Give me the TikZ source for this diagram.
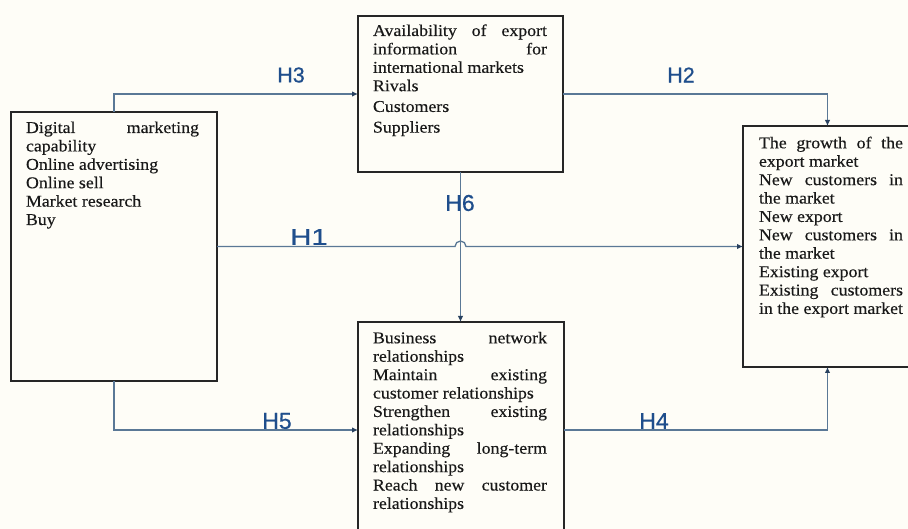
\documentclass[tikz,border=0pt]{standalone}
\usepackage{fontspec}
\setmainfont[FakeStretch=1.08,FakeBold=0.35]{Liberation Serif}
\newfontfamily\labfont[FakeBold=0.6]{Liberation Sans}
\usetikzlibrary{arrows.meta,calc}
\definecolor{bg}{RGB}{254,253,247}
\definecolor{conncol}{RGB}{90,120,150}
\definecolor{tipcol}{RGB}{40,65,95}
\definecolor{labcol}{RGB}{31,78,140}
\newcommand\jl[2]{\makebox[#1][s]{#2}}
\newcommand\fl{\rule{0pt}{12pt}}
\begin{document}
\begin{tikzpicture}[x=1pt,y=-1pt,
  box/.style={draw=black!85, line width=1.6pt, fill=bg, inner sep=0pt, outer sep=0pt},
  txt/.style={anchor=north west, inner sep=0pt, outer sep=0pt, align=left, font=\fontsize{16.5}{18.4}\selectfont, text=black!90},
  conn/.style={draw=conncol, line width=1.3pt, -{Latex[length=6pt,width=5.5pt,color=tipcol]}},
  lab/.style={text=labcol, font=\labfont\fontsize{21.5}{24}\selectfont, inner sep=0pt},
  labbig/.style={lab, font=\labfont\fontsize{23}{26}\selectfont}]
\fill[bg] (0,0) rectangle (908,529);
\useasboundingbox (0,0) rectangle (908,529);

\node[box, minimum width=206pt, minimum height=269pt] (left) at (114,246.5) {};
\node[box, minimum width=205pt, minimum height=156pt] (top) at (460.5,94) {};
\node[box, minimum width=169pt, minimum height=241pt] (right) at (827.5,246.5) {};
\node[box, minimum width=206pt, minimum height=216pt] (bot) at (461,430) {};

\node[txt] (lt) at (26,121) {\fl\jl{173pt}{Digital marketing}\\capability\\Online advertising\\Online sell\\Market research\\Buy};
\node[txt] (tt) at (373,24) {\fl\jl{174pt}{Availability of export}\\\jl{174pt}{information for}\\international markets\\Rivals\\[2.3pt]Customers\\[2.3pt]Suppliers};
\node[txt] (rt) at (759,136.3) {\fl\jl{144pt}{The growth of the}\\export market\\\jl{144pt}{New customers in}\\the market\\New export\\\jl{144pt}{New customers in}\\the market\\Existing export\\\jl{144pt}{Existing customers}\\in the export market};
\node[txt] (bt) at (373,331.3) {\fl\jl{174pt}{Business network}\\relationships\\\jl{174pt}{Maintain existing}\\customer relationships\\\jl{174pt}{Strengthen existing}\\relationships\\\jl{174pt}{Expanding long-term}\\relationships\\\jl{174pt}{Reach new customer}\\relationships};

\draw[conn] (left.north) |- (top.west);
\draw[conn] (top.east) -| (right.north);
\draw[conn] (left.east) -- ($(top.south |- left.east)+(-5.5,0)$) arc[start angle=180,end angle=0,radius=5.5pt] -- (right.west);
\draw[conn] (top.south) -- (top.south |- bot.north);
\draw[conn] (left.south) |- (bot.west);
\draw[conn] (bot.east) -| (right.south);

\node[lab] (h3) at (291,75) {H3};
\node[lab] (h2) at (681,75) {H2};
\node[labbig] (h1) at (309,237) {\scalebox{1.27}[1]{H1}};
\node[labbig] (h6) at (460,203) {H6};
\node[labbig] (h5) at (277,421) {H5};
\node[labbig] (h4) at (654,421) {H4};
\end{tikzpicture}
\end{document}
